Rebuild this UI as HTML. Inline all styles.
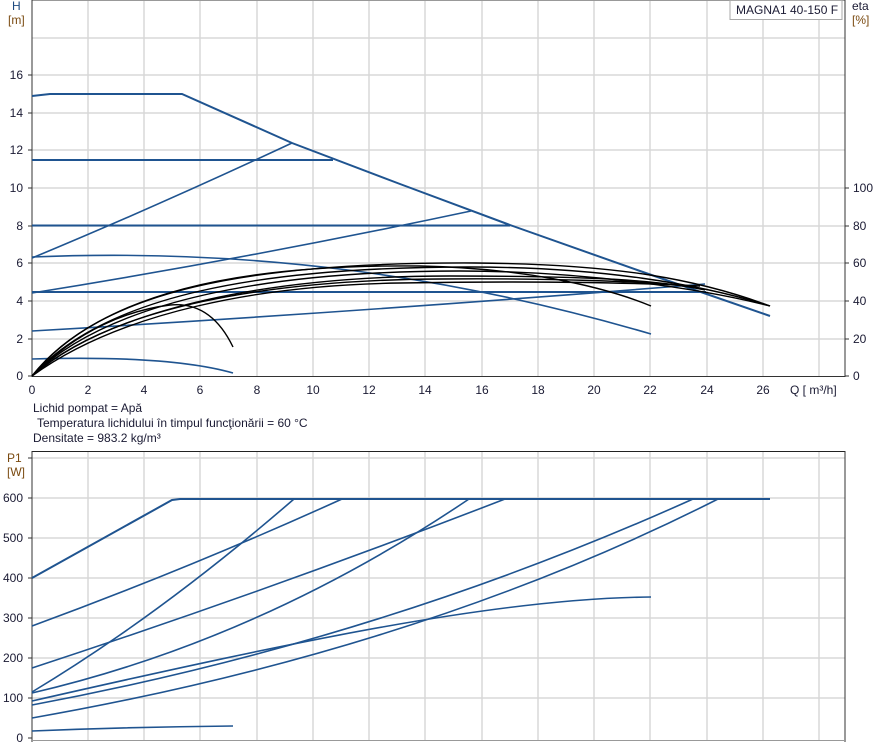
<!DOCTYPE html>
<html><head><meta charset="utf-8"><style>
body{margin:0;background:#fff;}
svg{display:block;font-family:"Liberation Sans",sans-serif;font-size:12px;}
</style></head><body>
<svg width="876" height="755" xmlns="http://www.w3.org/2000/svg">
<rect width="876" height="755" fill="#fff"/>
<!-- TOP CHART grid -->
<g stroke="#d8d8d8" stroke-width="1.5">
<line x1="88" y1="0" x2="88" y2="376"/><line x1="144" y1="0" x2="144" y2="376"/><line x1="200" y1="0" x2="200" y2="376"/><line x1="257" y1="0" x2="257" y2="376"/><line x1="313" y1="0" x2="313" y2="376"/><line x1="369" y1="0" x2="369" y2="376"/><line x1="425" y1="0" x2="425" y2="376"/><line x1="482" y1="0" x2="482" y2="376"/><line x1="538" y1="0" x2="538" y2="376"/><line x1="594" y1="0" x2="594" y2="376"/><line x1="650" y1="0" x2="650" y2="376"/><line x1="707" y1="0" x2="707" y2="376"/><line x1="763" y1="0" x2="763" y2="376"/><line x1="819" y1="0" x2="819" y2="376"/>
<line x1="32" y1="339" x2="845" y2="339"/><line x1="32" y1="301" x2="845" y2="301"/><line x1="32" y1="263" x2="845" y2="263"/><line x1="32" y1="226" x2="845" y2="226"/><line x1="32" y1="188" x2="845" y2="188"/><line x1="32" y1="150" x2="845" y2="150"/><line x1="32" y1="113" x2="845" y2="113"/><line x1="32" y1="75" x2="845" y2="75"/><line x1="32" y1="38" x2="845" y2="38"/>
</g>
<line x1="32" y1="0.5" x2="845" y2="0.5" stroke="#999" stroke-width="1"/>
<line x1="32" y1="0" x2="32" y2="377" stroke="#333" stroke-width="1"/>
<line x1="845" y1="0" x2="845" y2="377" stroke="#333" stroke-width="1"/>
<line x1="32" y1="376.5" x2="845" y2="376.5" stroke="#333" stroke-width="1"/>
<!-- top ticks -->
<g stroke="#333"><line x1="28" y1="376" x2="32" y2="376"/><line x1="28" y1="339" x2="32" y2="339"/><line x1="28" y1="301" x2="32" y2="301"/><line x1="28" y1="263" x2="32" y2="263"/><line x1="28" y1="226" x2="32" y2="226"/><line x1="28" y1="188" x2="32" y2="188"/><line x1="28" y1="150" x2="32" y2="150"/><line x1="28" y1="113" x2="32" y2="113"/><line x1="28" y1="75" x2="32" y2="75"/>
<line x1="845" y1="376" x2="849" y2="376"/><line x1="845" y1="339" x2="849" y2="339"/><line x1="845" y1="301" x2="849" y2="301"/><line x1="845" y1="263" x2="849" y2="263"/><line x1="845" y1="226" x2="849" y2="226"/><line x1="845" y1="188" x2="849" y2="188"/></g>
<g fill="#1a1a33" text-anchor="end">
<text x="23" y="380">0</text><text x="23" y="343">2</text><text x="23" y="305">4</text><text x="23" y="267">6</text><text x="23" y="230">8</text><text x="23" y="192">10</text><text x="23" y="154">12</text><text x="23" y="117">14</text><text x="23" y="79">16</text>
</g>
<g fill="#1a1a33">
<text x="853" y="380">0</text><text x="853" y="343">20</text><text x="853" y="305">40</text><text x="853" y="267">60</text><text x="853" y="230">80</text><text x="853" y="192">100</text>
<text x="852" y="10">eta</text><text x="852" y="24" fill="#7a4a10">[%]</text>
<text x="12" y="10" fill="#1d4a80">H</text><text x="8" y="24" fill="#7a4a10">[m]</text>
</g>
<g fill="#1a1a33" text-anchor="middle">
<text x="32" y="394">0</text><text x="88" y="394">2</text><text x="144" y="394">4</text><text x="200" y="394">6</text><text x="257" y="394">8</text><text x="313" y="394">10</text><text x="369" y="394">12</text><text x="425" y="394">14</text><text x="482" y="394">16</text><text x="538" y="394">18</text><text x="594" y="394">20</text><text x="650" y="394">22</text><text x="707" y="394">24</text><text x="763" y="394">26</text>
</g>
<text x="790" y="394" fill="#1a1a33">Q [ m³/h]</text>
<rect x="730" y="0.5" width="112" height="19" fill="#fff" stroke="#aaa"/>
<text x="736" y="14" fill="#1a1a33">MAGNA1 40-150 F</text>
<!-- top blue curves -->
<g fill="none" stroke="#1f5490" stroke-width="1.6">
<polyline points="32,96 50,94 182,94 292,143 400,184 510,225 640,271 770,316" stroke-width="2"/>
<line x1="32" y1="160" x2="333" y2="160" stroke-width="2"/>
<line x1="32" y1="225.5" x2="510" y2="225.5" stroke-width="2"/>
<line x1="32" y1="292" x2="706" y2="292" stroke-width="2"/>
<path d="M32,258 Q155,207 292,143"/>
<path d="M32,293 Q250,258 471,211"/>
<path d="M32,331 Q360,312 705,284"/>
<path d="M32,257 C250,248 450,275 651,334"/>
<path d="M32,359 Q170,355 233,373"/>
</g>
<!-- efficiency curves -->
<g fill="none" stroke="#000" stroke-width="1.4">
<path d="M32,376 C100,290 250,262 475,263 C620,264 700,280 770,306"/>
<path d="M32,376 C105,295 260,267 470,267 C600,267 700,284 770,306"/>
<path d="M32,376 C110,300 270,271 460,271 C580,271 700,288 770,306"/>
<path d="M32,376 C100,292 240,264 420,266 C520,268 600,285 651,306"/>
<path d="M32,376 C115,305 280,276 450,276 C560,276 650,278 705,290"/>
<path d="M32,376 C120,312 260,285 400,283 C520,281 620,282 700,286"/>
<path d="M32,376 C112,306 270,280 440,279 C560,278 650,282 690,286"/>
<path d="M32,376 C80,328 130,310 170,305 C200,302 220,320 233,347"/>
</g>
<!-- notes -->
<g fill="#1a1a33">
<text x="33" y="412">Lichid pompat = Apă</text>
<text x="37" y="427">Temperatura lichidului în timpul funcţionării = 60  °C</text>
<text x="33" y="442">Densitate = 983.2  kg/m³</text>
</g>
<!-- BOTTOM CHART -->
<g stroke="#d8d8d8" stroke-width="1.5">
<line x1="88" y1="451" x2="88" y2="740"/><line x1="144" y1="451" x2="144" y2="740"/><line x1="200" y1="451" x2="200" y2="740"/><line x1="257" y1="451" x2="257" y2="740"/><line x1="313" y1="451" x2="313" y2="740"/><line x1="369" y1="451" x2="369" y2="740"/><line x1="425" y1="451" x2="425" y2="740"/><line x1="482" y1="451" x2="482" y2="740"/><line x1="538" y1="451" x2="538" y2="740"/><line x1="594" y1="451" x2="594" y2="740"/><line x1="650" y1="451" x2="650" y2="740"/><line x1="707" y1="451" x2="707" y2="740"/><line x1="763" y1="451" x2="763" y2="740"/><line x1="819" y1="451" x2="819" y2="740"/>
<line x1="32" y1="698" x2="845" y2="698"/><line x1="32" y1="658" x2="845" y2="658"/><line x1="32" y1="618" x2="845" y2="618"/><line x1="32" y1="578" x2="845" y2="578"/><line x1="32" y1="538" x2="845" y2="538"/><line x1="32" y1="498" x2="845" y2="498"/><line x1="32" y1="458" x2="845" y2="458"/>
</g>
<line x1="32" y1="451.5" x2="845" y2="451.5" stroke="#222"/>
<line x1="32" y1="451" x2="32" y2="742" stroke="#333"/>
<line x1="845" y1="451" x2="845" y2="742" stroke="#333"/>
<line x1="32" y1="740.5" x2="845" y2="740.5" stroke="#999"/>
<g stroke="#333"><line x1="28" y1="738" x2="32" y2="738"/><line x1="28" y1="698" x2="32" y2="698"/><line x1="28" y1="658" x2="32" y2="658"/><line x1="28" y1="618" x2="32" y2="618"/><line x1="28" y1="578" x2="32" y2="578"/><line x1="28" y1="538" x2="32" y2="538"/><line x1="28" y1="498" x2="32" y2="498"/><line x1="28" y1="458" x2="32" y2="458"/></g>
<g fill="#1a1a33" text-anchor="end">
<text x="23" y="742">0</text><text x="23" y="702">100</text><text x="23" y="662">200</text><text x="23" y="622">300</text><text x="23" y="582">400</text><text x="23" y="542">500</text><text x="23" y="502">600</text>
</g>
<text x="7" y="462" fill="#7a4a10">P1</text><text x="7" y="476" fill="#7a4a10">[W]</text>
<g fill="none" stroke="#1f5490" stroke-width="1.6">
<polyline points="32,578 172,500 180,499 770,499" stroke-width="2"/>
<path d="M32,626 Q190,568 342,499"/>
<path d="M32,692 Q160,615 294,499"/>
<path d="M32,668 Q270,590 505,499"/>
<path d="M32,693 Q260,640 469,499"/>
<path d="M32,701 C300,640 500,598 651,597"/>
<path d="M32,705 Q380,640 693,499"/>
<path d="M32,718 Q420,650 718,499"/>
<path d="M32,731 Q130,727 233,726"/>
</g>
</svg>
</body></html>
